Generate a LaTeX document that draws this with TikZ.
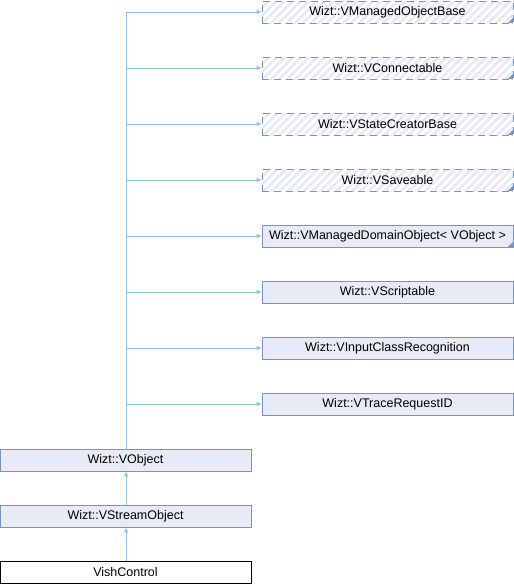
\documentclass[tikz,border=0pt]{standalone}
\usepackage{fontspec}
\setmainfont{Liberation Sans}
\usetikzlibrary{patterns.meta,arrows.meta}
\definecolor{edge}{HTML}{8CC4E8}
\definecolor{boxfill}{HTML}{E7EBF5}
\definecolor{boxdraw}{HTML}{7A93C6}
\definecolor{hatch}{HTML}{E5EAF5}
\tikzset{
  lbl/.style={font=\fontsize{12.5}{14}\selectfont},
  cls/.style={lbl,draw=boxdraw,fill=boxfill,minimum width=251pt,minimum height=22pt,inner sep=0pt,line width=0.9pt},
  ext/.style={lbl,draw=boxdraw,dash pattern=on 7pt off 5pt,pattern={Lines[angle=45,distance=5.7pt,line width=2.8pt]},pattern color=hatch,minimum width=251pt,minimum height=22pt,inner sep=0pt,line width=0.9pt},
  leaf/.style={lbl,draw=black,fill=white,minimum width=251pt,minimum height=22pt,inner sep=0pt,line width=0.9pt},
  inh/.style={draw=edge,line width=0.9pt,-{Latex[length=5pt,width=5pt]}},
  tri/.style={fill=boxdraw,draw=none}
}
\begin{document}
\begin{tikzpicture}[x=1pt,y=-1pt]
\useasboundingbox (0,0) rectangle (514,584);
\node[ext] (a) at (387.5,12) {Wizt::VManagedObjectBase};
\node[ext] (b) at (387.5,68) {Wizt::VConnectable};
\node[ext] (c) at (387.5,124) {Wizt::VStateCreatorBase};
\node[ext] (d) at (387.5,180) {Wizt::VSaveable};
\node[cls] (e) at (387.5,236) {Wizt::VManagedDomainObject< VObject >};
\node[cls] (f) at (387.5,292) {Wizt::VScriptable};
\node[cls] (g) at (387.5,348) {Wizt::VInputClassRecognition};
\node[cls] (h) at (387.5,404) {Wizt::VTraceRequestID};
\node[cls] (vo) at (125.5,460) {Wizt::VObject};
\node[cls] (vs) at (125.5,516) {Wizt::VStreamObject};
\node[leaf] (vc) at (125.5,572) {VishControl};
\foreach \n in {a,b,c,d,e}{
  \fill[tri] (\n.south east) ++(-0.5,-0.5) -- ++(-5,0) -- ++(5,-5) -- cycle;
}
\coordinate (top) at (126,12);
\draw[edge,line width=0.9pt] (vo.north -| top) -- (top);
\foreach \n in {a,b,c,d,e,f,g,h}{
  \draw[inh] (\n.west -| top) -- (\n.west);
}
\draw[inh] (vs.north -| top) -- (vo.south -| top);
\draw[inh] (vc.north -| top) -- (vs.south -| top);
\end{tikzpicture}
\end{document}
